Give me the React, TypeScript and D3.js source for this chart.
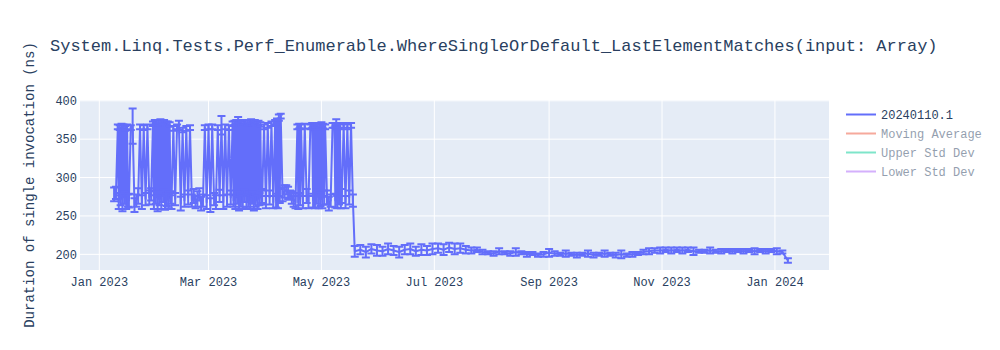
import React from "react";
import * as d3 from "d3";

const chartTitle = "System.Linq.Tests.Perf_Enumerable.WhereSingleOrDefault_LastElementMatches(input: Array)";
const yAxisTitle = "Duration of single invocation (ns)";

// Jan 9 – May 18 2023: one reading per day (00:00), plus an optional second reading at 12:00
const datesEarly: string[] = [
  "2023-01-09","2023-01-10","2023-01-11","2023-01-12","2023-01-13","2023-01-14","2023-01-15","2023-01-16","2023-01-17","2023-01-18","2023-01-19","2023-01-20","2023-01-21","2023-01-22","2023-01-23","2023-01-24","2023-01-25","2023-01-26","2023-01-27","2023-01-28","2023-01-29","2023-01-30","2023-01-31",
  "2023-02-01","2023-02-02","2023-02-03","2023-02-04","2023-02-05","2023-02-06","2023-02-07","2023-02-08","2023-02-09","2023-02-10","2023-02-11","2023-02-12","2023-02-13","2023-02-14","2023-02-15","2023-02-16","2023-02-17","2023-02-18","2023-02-19","2023-02-20","2023-02-21","2023-02-22","2023-02-23","2023-02-24","2023-02-25","2023-02-26","2023-02-27","2023-02-28",
  "2023-03-01","2023-03-02","2023-03-03","2023-03-04","2023-03-05","2023-03-06","2023-03-07","2023-03-08","2023-03-09","2023-03-10","2023-03-11","2023-03-12","2023-03-13","2023-03-14","2023-03-15","2023-03-16","2023-03-17","2023-03-18","2023-03-19","2023-03-20","2023-03-21","2023-03-22","2023-03-23","2023-03-24","2023-03-25","2023-03-26","2023-03-27","2023-03-28","2023-03-29","2023-03-30","2023-03-31",
  "2023-04-01","2023-04-02","2023-04-03","2023-04-04","2023-04-05","2023-04-06","2023-04-07","2023-04-08","2023-04-09","2023-04-10","2023-04-11","2023-04-12","2023-04-13","2023-04-14","2023-04-15","2023-04-16","2023-04-17","2023-04-18","2023-04-19","2023-04-20","2023-04-21","2023-04-22","2023-04-23","2023-04-24","2023-04-25","2023-04-26","2023-04-27","2023-04-28","2023-04-29","2023-04-30",
  "2023-05-01","2023-05-02","2023-05-03","2023-05-04","2023-05-05","2023-05-06","2023-05-07","2023-05-08","2023-05-09","2023-05-10","2023-05-11","2023-05-12","2023-05-13","2023-05-14","2023-05-15","2023-05-16","2023-05-17","2023-05-18",
];
const valuesEarly: number[] = [
  278,280,366,365,367,366,364,366,270,365,367,264,270,276,366,268,365,272,366,274,278,370,372,
  372,371,373,372,372,370,370,369,268,364,272,366,368,266,362,270,364,274,365,270,276,268,272,278,266,270,365,268,
  366,264,366,272,268,365,276,368,268,366,270,365,274,370,371,372,373,371,370,372,372,371,372,373,371,372,370,371,369,276,366,
  268,368,274,370,268,372,374,378,380,278,282,284,280,277,274,271,268,366,367,366,268,367,276,268,366,368,367,368,366,368,
  369,367,366,274,266,270,368,368,370,368,366,276,368,268,366,274,368,270,
];
const errorsEarly: number[] = [
  9,8,3,3,3,3,3,3,9,3,23,9,8,10,3,9,3,8,3,9,8,3,3,
  3,3,3,3,3,3,3,3,9,3,8,3,6,9,3,8,3,9,3,8,9,8,10,8,9,8,3,9,
  3,9,3,8,9,3,8,12,9,3,8,3,9,3,3,3,6,3,3,3,3,3,3,3,3,3,3,3,3,9,3,
  8,3,9,3,8,3,3,4,3,9,8,6,8,6,8,9,8,3,3,3,8,3,9,8,3,3,3,3,3,3,
  3,3,3,9,9,8,3,3,6,3,3,9,3,8,3,9,3,8,
];
const noonValuesEarly: (number | null)[] = [
  null,null,268,272,266,274,268,270,null,null,null,null,null,null,null,null,null,null,null,null,null,268,274,
  266,272,268,276,267,271,269,274,null,null,null,null,null,null,null,null,null,null,null,null,null,null,null,null,null,null,null,null,
  null,null,null,null,null,null,null,null,null,null,null,null,null,270,268,274,266,270,268,276,269,270,268,274,266,270,268,272,274,null,null,
  null,null,null,null,null,270,268,276,null,null,null,null,null,null,null,null,null,268,272,null,null,null,null,null,null,270,268,275,268,272,
  268,274,null,null,null,null,null,270,268,274,268,null,null,null,null,null,null,null,
];
const noonErrorsEarly: number[] = [
  0,0,9,8,10,8,9,8,0,0,0,0,0,0,0,0,0,0,0,0,0,9,8,
  10,8,9,8,9,8,9,8,0,0,0,0,0,0,0,0,0,0,0,0,0,0,0,0,0,0,0,0,
  0,0,0,0,0,0,0,0,0,0,0,0,0,8,9,8,9,8,9,8,9,8,9,8,9,8,9,8,9,0,0,
  0,0,0,0,0,9,8,9,0,0,0,0,0,0,0,0,0,9,8,0,0,0,0,0,0,9,8,9,8,9,
  8,9,0,0,0,0,0,9,8,9,8,0,0,0,0,0,0,0,
];

// May 19 2023 – Jan 8 2024
const datesLate: string[] = [
  "2023-05-19","2023-05-22","2023-05-25","2023-05-28","2023-05-31",
  "2023-06-03","2023-06-06","2023-06-09","2023-06-12","2023-06-15","2023-06-18","2023-06-21","2023-06-24","2023-06-27","2023-06-30",
  "2023-07-03","2023-07-06","2023-07-09","2023-07-12","2023-07-15","2023-07-18","2023-07-21","2023-07-24","2023-07-27","2023-07-30",
  "2023-08-02","2023-08-05","2023-08-08","2023-08-11","2023-08-14","2023-08-17","2023-08-20","2023-08-23","2023-08-26","2023-08-29",
  "2023-09-01","2023-09-04","2023-09-07","2023-09-10","2023-09-13","2023-09-16","2023-09-19","2023-09-22","2023-09-25","2023-09-28",
  "2023-10-01","2023-10-04","2023-10-07","2023-10-10","2023-10-13","2023-10-16","2023-10-19","2023-10-22","2023-10-25","2023-10-28","2023-10-31",
  "2023-11-03","2023-11-06","2023-11-09","2023-11-12","2023-11-15","2023-11-18","2023-11-21","2023-11-24","2023-11-27","2023-11-30",
  "2023-12-03","2023-12-06","2023-12-09","2023-12-12","2023-12-15","2023-12-18","2023-12-21","2023-12-24","2023-12-27","2023-12-30",
  "2024-01-02","2024-01-05","2024-01-08",
];
const valuesLate: number[] = [
  204,206,203,207,205,
  204,207,205,203,206,207,204,206,205,207,
  208,206,209,207,208,206,205,206,203,202,
  201,204,202,201,203,202,200,201,199,200,
  202,201,200,201,200,199,200,201,199,200,
  201,200,199,200,199,200,201,203,204,205,205,
  206,205,206,205,206,204,204,204,205,204,
  204,205,204,205,204,205,204,205,204,205,
  204,203,192,
];
const errorsLate: number[] = [
  7,6,7,6,7,
  6,7,6,7,6,7,6,7,6,7,
  6,7,6,7,6,5,4,3,3,2,
  3,4,2,3,5,2,3,2,2,3,
  5,3,2,4,2,3,2,4,3,2,
  4,2,3,5,2,3,2,3,4,3,4,
  3,4,3,4,3,5,2,2,4,2,
  3,2,3,2,3,2,4,2,3,2,
  4,2,3,
];

const xTickDates: string[] = ["2023-01-01","2023-03-01","2023-05-01","2023-07-01","2023-09-01","2023-11-01","2024-01-01"];
const yTicks: number[] = [200, 250, 300, 350, 400];

const legendNames: string[] = ["20240110.1", "Moving Average", "Upper Std Dev", "Lower Std Dev"];
const legendColors: string[] = ["#636efa", "#EF553B", "#00cc96", "#ab63fa"];
const legendVisible: boolean[] = [true, false, false, false];

const FONT = "'Courier New', 'Liberation Mono', monospace";
const TEXT = "#2a3f5f";

type Pt = { t: Date; v: number; e: number };

export default function App() {
  const fmt = d3.utcFormat("%b %Y");
  const pts: Pt[] = [];
  datesEarly.forEach((d, i) => {
    pts.push({ t: new Date(d + "T00:00:00Z"), v: valuesEarly[i], e: errorsEarly[i] });
    const nv = noonValuesEarly[i];
    if (nv !== null) pts.push({ t: new Date(d + "T12:00:00Z"), v: nv, e: noonErrorsEarly[i] });
  });
  datesLate.forEach((d, i) => {
    pts.push({ t: new Date(d + "T00:00:00Z"), v: valuesLate[i], e: errorsLate[i] });
  });

  const L = 80, R = 829, T = 100, B = 270;
  const x = d3.scaleUtc()
    .domain([new Date(Date.UTC(2022, 11, 21, 13, 40)), new Date(Date.UTC(2024, 0, 30, 5, 0))])
    .range([L, R]);
  const y = d3.scaleLinear().domain([179.6, 401]).range([B, T]);
  const line = d3.line<Pt>().x(d => x(d.t)).y(d => y(d.v));
  const cap = 4;
  const tickDate = (d: string) => new Date(d + "T00:00:00Z");

  return (
    <svg width={1000} height={350} style={{ position: "absolute", left: 0, top: 0, background: "#fff" }} fontFamily={FONT}>
      <defs>
        <clipPath id="plotclip">
          <rect x={L} y={T} width={R - L} height={B - T} />
        </clipPath>
      </defs>
      <rect x={L} y={T} width={R - L} height={B - T} fill="#e5ecf6" />
      {xTickDates.map(d => (
        <line key={d} x1={x(tickDate(d))} x2={x(tickDate(d))} y1={T} y2={B} stroke="#fff" strokeWidth={1} />
      ))}
      {yTicks.map(v => (
        <line key={v} x1={L} x2={R} y1={y(v)} y2={y(v)} stroke="#fff" strokeWidth={1} />
      ))}
      <g clipPath="url(#plotclip)">
        <path d={line(pts) || ""} fill="none" stroke="#636efa" strokeWidth={2} strokeLinejoin="round" />
        <g stroke="#636efa" strokeWidth={2} fill="none">
          {pts.map((p, i) => {
            if (p.e <= 0) return null;
            const px = x(p.t);
            const y1 = y(p.v + p.e), y2 = y(p.v - p.e);
            return (
              <path key={i} d={`M${px},${y1}V${y2}M${px - cap},${y1}h${2 * cap}M${px - cap},${y2}h${2 * cap}`} />
            );
          })}
        </g>
      </g>
      {yTicks.map(v => (
        <text key={v} x={77} y={y(v)} dy="0.35em" textAnchor="end" fontSize={12} fill={TEXT}>{v}</text>
      ))}
      {xTickDates.map(d => (
        <text key={d} x={x(tickDate(d))} y={286} textAnchor="middle" fontSize={12} fill={TEXT}>{fmt(tickDate(d))}</text>
      ))}
      <text x={50} y={51} fontSize={17} fill={TEXT}>{chartTitle}</text>
      <text transform={`translate(34,${(T + B) / 2}) rotate(-90)`} textAnchor="middle" fontSize={14} fill={TEXT}>{yAxisTitle}</text>
      {legendNames.map((n, i) => {
        const cy = 114.5 + 19 * i;
        return (
          <g key={n} opacity={legendVisible[i] ? 1 : 0.5}>
            <line x1={846} x2={876} y1={cy} y2={cy} stroke={legendColors[i]} strokeWidth={2} />
            <text x={881} y={cy} dy="0.35em" fontSize={12} fill={TEXT}>{n}</text>
          </g>
        );
      })}
    </svg>
  );
}
